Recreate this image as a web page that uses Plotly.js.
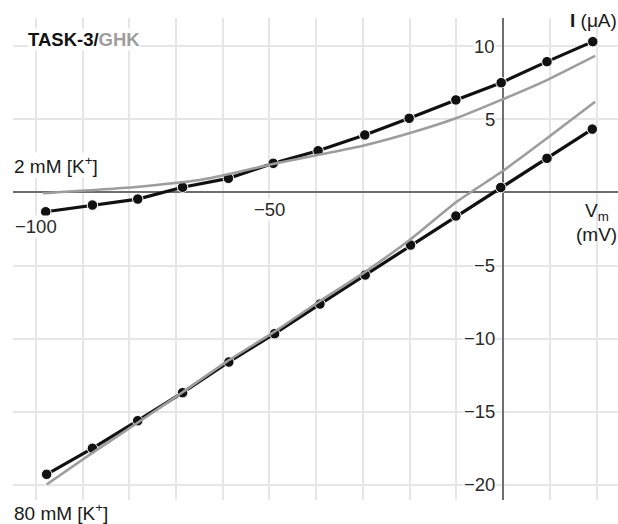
<!DOCTYPE html>
<html><head><meta charset="utf-8">
<script src="https://cdn.plot.ly/plotly-3.0.1.min.js"></script>
<style>html,body{margin:0;padding:0;background:#fff}#chart{width:618px;height:524px}</style>
</head><body><div id="chart"></div>
<script>
// TASK-3 measured currents (black) and GHK fits (gray)
const vm2 = [-97.9, -87.9, -78.2, -68.6, -58.8, -49.2, -39.6, -29.6, -20.1, -10.1, -0.4, 9.4, 19.2];
const i2 = [-1.32, -0.86, -0.45, 0.36, 0.97, 2.0, 2.86, 3.94, 5.08, 6.34, 7.52, 8.96, 10.33];
const vm80 = [-97.7, -87.9, -78.2, -68.6, -58.7, -48.9, -39.2, -29.5, -19.8, -10.1, -0.5, 9.4, 19.1];
const i80 = [-19.3, -17.52, -15.63, -13.71, -11.61, -9.67, -7.64, -5.65, -3.6, -1.61, 0.34, 2.34, 4.34];
const ghkVm2 = [-98.5, -79.2, -64.9, -57.8, -49.3, -39.2, -30.0, -20.1, -10.1, -0.4, 9.4, 19.7];
const ghkI2 = [-0.05, 0.36, 0.86, 1.32, 1.95, 2.6, 3.2, 4.05, 5.08, 6.34, 7.7, 9.35];
const ghkVm80 = [-97.7, -88, -78, -68.6, -59, -49, -39.5, -29.6, -20, -10, -0.3, 9.4, 19.7];
const ghkI80 = [-20.0, -17.85, -15.72, -13.68, -11.55, -9.55, -7.5, -5.45, -3.25, -0.65, 1.42, 3.71, 6.22];

const yTickVals = [10, 5, -5, -10, -15, -20];
const yTickText = ['10', '5', '\u22125', '\u221210', '\u221215', '\u221220'];
const xTickVals = [-100, -50];
const xTickText = ['\u2212100', '\u221250'];

const FONT = '"Liberation Sans", Arial, Helvetica, sans-serif';
const BLACK = '#111111';
const GRAY = '#9d9d9d';

const dataLine = (x, y) => ({
  x: x, y: y, type: 'scatter', mode: 'lines+markers', hoverinfo: 'skip',
  line: {color: BLACK, width: 3.2},
  marker: {size: 10.5, color: BLACK, line: {color: '#ffffff', width: 1}}
});
const fitLine = (x, y) => ({
  x: x, y: y, type: 'scatter', mode: 'lines', hoverinfo: 'skip',
  line: {color: GRAY, width: 2.6, shape: 'spline', smoothing: 0.5}
});

const traces = [
  dataLine(vm2, i2), dataLine(vm80, i80),
  fitLine(ghkVm2, ghkI2), fitLine(ghkVm80, ghkI80)
];

const ann = [];
yTickVals.forEach((v, k) => ann.push({
  x: 0, y: v, xref: 'x', yref: 'y', xanchor: 'right', yanchor: 'middle',
  xshift: -7, text: yTickText[k], showarrow: false, bgcolor: '#ffffff', borderpad: 0,
  font: {family: FONT, size: 18.5, color: '#2a2a2a'}
}));
const xShifts = [-23, -6];
xTickVals.forEach((v, k) => ann.push({
  x: v, y: 0, xref: 'x', yref: 'y', xanchor: 'center', yanchor: 'top',
  yshift: xShifts[k], text: xTickText[k], showarrow: false, bgcolor: '#ffffff', borderpad: 0,
  font: {family: FONT, size: 18.5, color: '#2a2a2a'}
}));
const txt = (t, x, y, xa, opts) => Object.assign({
  text: t, x: x, y: y, xref: 'paper', yref: 'paper', xanchor: xa, yanchor: 'middle',
  showarrow: false, borderpad: 0, font: {family: FONT, size: 19, color: '#1a1a1a'}
}, opts || {});
ann.push(txt('<b>TASK-3/</b><b><span style="color:#9d9d9d">GHK</span></b>', 0.023, 0.955, 'left', {bgcolor: '#ffffff', font: {family: FONT, size: 18.5, color: '#111'}}));
ann.push(txt('2 mM [K<sup>+</sup>]', 0.0, 0.694, 'left', {bgcolor: '#ffffff'}));
ann.push(txt('80 mM [K<sup>+</sup>]', 0.0, -0.025, 'left'));
ann.push(txt('<b>I</b> (\u03bcA)', 1.0, 0.995, 'right'));
ann.push(txt('V<sub>m</sub>', 0.965, 0.597, 'center'));
ann.push(txt('(mV)', 1.0, 0.55, 'right'));

const layout = {
  width: 618, height: 524,
  margin: {l: 13, r: 0, t: 18, b: 24, pad: 0},
  paper_bgcolor: '#ffffff', plot_bgcolor: '#ffffff',
  showlegend: false,
  font: {family: FONT, size: 18, color: '#1a1a1a'},
  xaxis: {
    range: [-104.9, 24.6], tick0: 0, dtick: 10, showgrid: true,
    gridcolor: '#e6e6e6', gridwidth: 2, zeroline: true, zerolinecolor: '#6e6e6e',
    zerolinewidth: 2, showticklabels: false, ticks: '', showline: false, fixedrange: true
  },
  yaxis: {
    range: [-21.06, 11.95], tick0: 0, dtick: 5, showgrid: true,
    gridcolor: '#e6e6e6', gridwidth: 2, zeroline: true, zerolinecolor: '#6e6e6e',
    zerolinewidth: 2, showticklabels: false, ticks: '', showline: false, fixedrange: true
  },
  annotations: ann
};

Plotly.newPlot('chart', traces, layout, {displayModeBar: false, staticPlot: true});
</script>
</body></html>
